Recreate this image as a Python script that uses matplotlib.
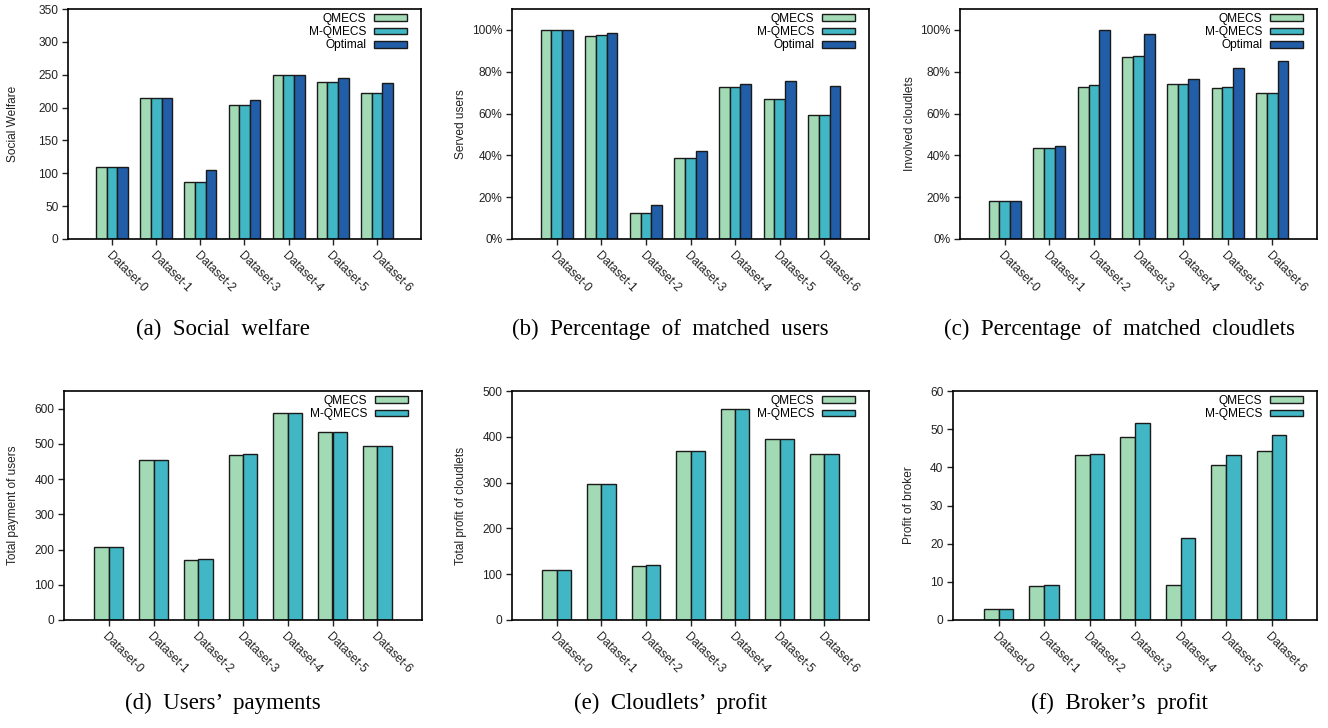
import matplotlib
matplotlib.use("Agg")
import matplotlib.pyplot as plt
import numpy as np
from matplotlib.ticker import FuncFormatter

plt.rcParams['font.family'] = ['Liberation Sans', 'DejaVu Sans']

W, H = 1328, 728

datasets = ['Dataset-0', 'Dataset-1', 'Dataset-2', 'Dataset-3', 'Dataset-4', 'Dataset-5', 'Dataset-6']
methods = ['QMECS', 'M-QMECS', 'Optimal']
colors = ['#a1dab4', '#41b6c4', '#225ea8']

# (a) social welfare
welfare_qmecs = [110, 215, 86, 204, 250, 239, 222]
welfare_mqmecs = [110, 215, 87, 204, 250, 239, 222]
welfare_opt = [110, 215, 105, 211, 250, 245, 237]

# (b) served users (%)
users_qmecs = [100, 97.3, 12.3, 38.7, 72.5, 66.9, 59.1]
users_mqmecs = [100, 97.4, 12.6, 38.8, 72.5, 66.9, 59.1]
users_opt = [100, 98.6, 16.1, 42.3, 74.3, 75.6, 73.2]

# (c) involved cloudlets (%)
cloud_qmecs = [18.4, 43.5, 72.7, 87.1, 74.1, 72.4, 70.0]
cloud_mqmecs = [18.4, 43.6, 73.8, 87.4, 74.1, 72.5, 70.0]
cloud_opt = [18.4, 44.4, 100, 97.9, 76.7, 81.6, 85.1]

# (d) total payment of users
pay_qmecs = [206, 454, 170, 469, 588, 535, 493]
pay_mqmecs = [206, 455, 172, 470, 588, 535, 493]

# (e) total profit of cloudlets
cprofit_qmecs = [110, 296, 117, 368, 461, 395, 363]
cprofit_mqmecs = [110, 297, 120, 370, 461, 395, 363]

# (f) profit of broker
bprofit_qmecs = [2.8, 8.9, 43.2, 47.9, 9.3, 40.5, 44.2]
bprofit_mqmecs = [2.8, 9.2, 43.6, 51.5, 21.4, 43.3, 48.4]

fig = plt.figure(figsize=(W / 100, H / 100), dpi=100)


def px_axes(left, top, right, bottom):
    return fig.add_axes([left / W, 1 - bottom / H, (right - left) / W, (bottom - top) / H])


def draw_panel(box, series, ylabel, ymax, yticks, label_x, percent=False):
    ax = px_axes(*box)
    left, top, right, bottom = box
    x = np.arange(len(datasets))
    n = len(series)
    if n == 3:
        width = 0.24
        offsets = [-0.24, 0, 0.24]
    else:
        width = 0.32
        offsets = [-0.16, 0.16]
    for i, vals in enumerate(series):
        ax.bar(x + offsets[i], vals, width, color=colors[i], edgecolor='#1a1a1a',
               linewidth=1.0, label=methods[i], zorder=2)
    ax.set_xlim(-1, 7)
    ax.set_ylim(0, ymax)
    ax.set_yticks(yticks)
    if percent:
        ax.yaxis.set_major_formatter(FuncFormatter(lambda v, p: '%d%%' % v))
    ax.set_xticks(x)
    ax.set_xticklabels(datasets, rotation=-45, ha='left', va='top',
                       rotation_mode='anchor', fontsize=8.6)
    ax.tick_params(axis='both', direction='out', length=4, width=1, labelsize=8.6,
                   pad=3, colors='#222222')
    ax.tick_params(axis='x', pad=4)
    for s in ax.spines.values():
        s.set_linewidth(1.2)
    ax.set_ylabel(ylabel, fontsize=8.6, color='#222222')
    ax.yaxis.set_label_coords((label_x + 5 - left) / (right - left), 0.5)
    ax.legend(loc='upper right', frameon=False, markerfirst=False, fontsize=8.6,
              bbox_to_anchor=(1 - 14 / (right - left), 1 - 4 / (bottom - top)),
              handlelength=2.8, handleheight=0.5, labelspacing=0.1,
              handletextpad=0.6, borderaxespad=0, borderpad=0)
    return ax


draw_panel((68, 9, 421, 239), [welfare_qmecs, welfare_mqmecs, welfare_opt],
           'Social Welfare', 350, range(0, 351, 50), 14)
draw_panel((512, 9, 869, 239), [users_qmecs, users_mqmecs, users_opt],
           'Served users', 110, range(0, 101, 20), 462, percent=True)
draw_panel((960, 9, 1317, 239), [cloud_qmecs, cloud_mqmecs, cloud_opt],
           'Involved cloudlets', 110, range(0, 101, 20), 911, percent=True)
draw_panel((64, 391, 422, 620), [pay_qmecs, pay_mqmecs],
           'Total payment of users', 650, range(0, 601, 100), 14)
draw_panel((512, 391, 869, 620), [cprofit_qmecs, cprofit_mqmecs],
           'Total profit of cloudlets', 500, range(0, 501, 100), 462)
draw_panel((953, 391, 1317, 620), [bprofit_qmecs, bprofit_mqmecs],
           'Profit of broker', 60, range(0, 61, 10), 910)

captions = [
    ('(a)  Social  welfare', 223, 329),
    ('(b)  Percentage  of  matched  users', 670, 329),
    ('(c)  Percentage  of  matched  cloudlets', 1119, 329),
    ('(d)  Users\u2019  payments', 223, 703),
    ('(e)  Cloudlets\u2019  profit', 671, 703),
    ('(f)  Broker\u2019s  profit', 1119, 703),
]
for txt, cx, cy in captions:
    fig.text(cx / W, 1 - cy / H, txt, ha='center', va='center', fontsize=16.5,
             family=['Liberation Serif', 'DejaVu Serif'])

fig.savefig('out.png', dpi=100)
